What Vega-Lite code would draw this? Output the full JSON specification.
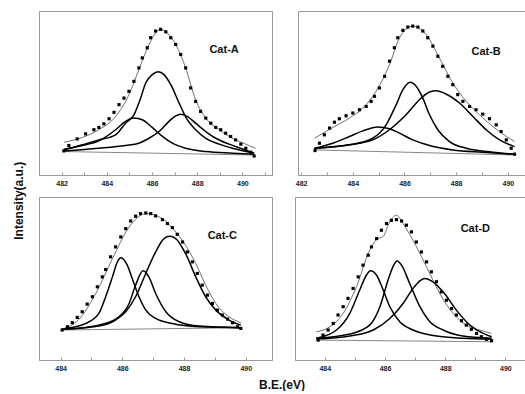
{
"$schema": "https://vega.github.io/schema/vega-lite/v6.json",
"padding": {"left": 12, "top": 10, "right": 0, "bottom": 0},
"background": "white",
"title": {"text": "Intensity(a.u.)", "orient": "left", "anchor": "middle", "fontSize": 12, "fontWeight": "bold", "font": "Liberation Sans", "color": "#111", "offset": 12},
"datasets": {
"Ad": [{"x":482.10,"y":14.7},{"x":482.32,"y":18.0},{"x":482.69,"y":22.0},{"x":483.06,"y":25.1},{"x":483.43,"y":27.6},{"x":483.65,"y":29.0},{"x":483.87,"y":31.2},{"x":484.10,"y":34.3},{"x":484.32,"y":38.2},{"x":484.54,"y":42.9},{"x":484.76,"y":46.9},{"x":484.98,"y":51.0},{"x":485.20,"y":57.1},{"x":485.42,"y":65.3},{"x":485.57,"y":71.4},{"x":485.79,"y":77.6},{"x":485.94,"y":83.7},{"x":486.16,"y":87.8},{"x":486.38,"y":88.8},{"x":486.61,"y":87.3},{"x":486.83,"y":83.7},{"x":487.05,"y":79.6},{"x":487.27,"y":73.5},{"x":487.49,"y":65.3},{"x":487.71,"y":53.1},{"x":487.93,"y":44.9},{"x":488.15,"y":38.8},{"x":488.38,"y":34.7},{"x":488.60,"y":31.6},{"x":488.82,"y":29.0},{"x":489.04,"y":27.6},{"x":489.26,"y":25.5},{"x":489.48,"y":23.5},{"x":489.70,"y":21.4},{"x":489.93,"y":18.8},{"x":490.15,"y":16.3},{"x":490.37,"y":13.9},{"x":490.52,"y":11.6}],
"Af": [{"x":482.10,"y":20.0},{"x":482.92,"y":22.9},{"x":483.65,"y":27.6},{"x":484.39,"y":35.7},{"x":484.98,"y":49.0},{"x":485.42,"y":64.3},{"x":485.87,"y":79.6},{"x":486.16,"y":86.7},{"x":486.38,"y":88.8},{"x":486.61,"y":87.3},{"x":487.05,"y":79.6},{"x":487.49,"y":65.3},{"x":487.93,"y":45.9},{"x":488.38,"y":34.7},{"x":488.97,"y":27.6},{"x":489.56,"y":22.4},{"x":490.15,"y":18.8},{"x":490.59,"y":16.3}],
"Ab": [{"x":482.10,"y":14.3},{"x":490.52,"y":12.2}],
"Ac": [{"s":1,"x":482.10,"y":15.7},{"s":1,"x":482.92,"y":18.0},{"s":1,"x":483.65,"y":20.8},{"s":1,"x":484.39,"y":27.6},{"s":1,"x":484.83,"y":32.7},{"s":1,"x":485.20,"y":34.7},{"s":1,"x":485.57,"y":33.7},{"s":1,"x":486.01,"y":29.0},{"s":1,"x":486.46,"y":23.5},{"s":1,"x":486.90,"y":19.4},{"s":1,"x":487.49,"y":16.3},{"s":1,"x":488.38,"y":14.3},{"s":1,"x":489.56,"y":13.3},{"s":1,"x":490.52,"y":12.7},
{"s":2,"x":482.10,"y":15.3},{"s":2,"x":482.92,"y":18.4},{"s":2,"x":483.65,"y":21.4},{"s":2,"x":484.39,"y":24.5},{"s":2,"x":484.83,"y":31.6},{"s":2,"x":485.20,"y":36.7},{"s":2,"x":485.50,"y":47.0},{"s":2,"x":485.72,"y":56.1},{"s":2,"x":486.01,"y":61.2},{"s":2,"x":486.28,"y":62.9},{"s":2,"x":486.53,"y":61.2},{"s":2,"x":486.83,"y":55.1},{"s":2,"x":487.20,"y":43.9},{"s":2,"x":487.56,"y":33.7},{"s":2,"x":487.93,"y":27.6},{"s":2,"x":488.38,"y":22.4},{"s":2,"x":488.97,"y":18.8},{"s":2,"x":489.56,"y":16.3},{"s":2,"x":490.52,"y":13.3},
{"s":3,"x":482.10,"y":14.7},{"s":3,"x":483.65,"y":16.3},{"s":3,"x":484.83,"y":18.0},{"s":3,"x":485.42,"y":19.4},{"s":3,"x":485.87,"y":22.4},{"s":3,"x":486.31,"y":26.5},{"s":3,"x":486.75,"y":32.7},{"s":3,"x":487.05,"y":36.1},{"s":3,"x":487.27,"y":37.1},{"s":3,"x":487.56,"y":35.7},{"s":3,"x":487.93,"y":31.6},{"s":3,"x":488.38,"y":26.5},{"s":3,"x":488.82,"y":22.4},{"s":3,"x":489.41,"y":18.8},{"s":3,"x":490.00,"y":15.9},{"s":3,"x":490.52,"y":13.3}],
"Al": [{"x":489.19,"y":76.5,"t":"Cat-A"}],
"Bd": [{"x":482.54,"y":14.9},{"x":482.71,"y":19.4},{"x":482.90,"y":24.5},{"x":483.10,"y":28.6},{"x":483.29,"y":32.2},{"x":483.48,"y":34.3},{"x":483.74,"y":36.1},{"x":484.00,"y":37.8},{"x":484.26,"y":39.8},{"x":484.52,"y":41.8},{"x":484.71,"y":44.9},{"x":484.84,"y":48.0},{"x":485.03,"y":53.1},{"x":485.23,"y":60.2},{"x":485.42,"y":69.4},{"x":485.61,"y":77.6},{"x":485.74,"y":83.7},{"x":485.94,"y":88.2},{"x":486.13,"y":90.2},{"x":486.32,"y":90.8},{"x":486.52,"y":90.2},{"x":486.71,"y":87.8},{"x":486.90,"y":83.7},{"x":487.10,"y":78.6},{"x":487.29,"y":72.4},{"x":487.48,"y":66.3},{"x":487.68,"y":60.2},{"x":487.87,"y":55.1},{"x":488.06,"y":49.0},{"x":488.26,"y":44.9},{"x":488.52,"y":41.8},{"x":488.77,"y":39.8},{"x":489.03,"y":37.1},{"x":489.29,"y":34.3},{"x":489.55,"y":30.6},{"x":489.74,"y":26.5},{"x":489.94,"y":21.4},{"x":490.13,"y":16.3},{"x":490.26,"y":12.7}],
"Bf": [{"x":482.52,"y":22.4},{"x":483.23,"y":29.0},{"x":483.87,"y":34.7},{"x":484.39,"y":40.8},{"x":484.90,"y":51.0},{"x":485.42,"y":67.3},{"x":485.81,"y":83.7},{"x":486.32,"y":90.8},{"x":486.84,"y":85.7},{"x":487.35,"y":71.4},{"x":487.87,"y":56.1},{"x":488.39,"y":44.9},{"x":488.90,"y":36.7},{"x":489.42,"y":29.6},{"x":489.94,"y":23.5},{"x":490.26,"y":20.4}],
"Bb": [{"x":482.52,"y":15.3},{"x":490.30,"y":12.2}],
"Bc": [{"s":1,"x":482.52,"y":16.3},{"s":1,"x":483.23,"y":19.4},{"s":1,"x":483.87,"y":23.5},{"s":1,"x":484.39,"y":26.9},{"s":1,"x":484.97,"y":29.2},{"s":1,"x":485.42,"y":28.2},{"s":1,"x":485.81,"y":25.5},{"s":1,"x":486.32,"y":21.4},{"s":1,"x":486.97,"y":18.0},{"s":1,"x":487.87,"y":15.3},{"s":1,"x":489.03,"y":13.9},{"s":1,"x":490.26,"y":12.7},
{"s":2,"x":482.52,"y":16.3},{"s":2,"x":483.87,"y":18.4},{"s":2,"x":484.77,"y":22.4},{"s":2,"x":485.29,"y":30.6},{"s":2,"x":485.68,"y":42.9},{"s":2,"x":485.94,"y":52.0},{"s":2,"x":486.22,"y":56.5},{"s":2,"x":486.45,"y":54.1},{"s":2,"x":486.71,"y":46.9},{"s":2,"x":486.97,"y":36.7},{"s":2,"x":487.29,"y":27.6},{"s":2,"x":487.74,"y":20.4},{"s":2,"x":488.39,"y":16.3},{"s":2,"x":489.42,"y":13.9},{"s":2,"x":490.26,"y":12.7},
{"s":3,"x":482.52,"y":16.3},{"s":3,"x":483.87,"y":18.4},{"s":3,"x":484.77,"y":21.4},{"s":3,"x":485.42,"y":27.6},{"s":3,"x":486.06,"y":36.7},{"s":3,"x":486.58,"y":45.9},{"s":3,"x":486.97,"y":50.6},{"s":3,"x":487.23,"y":51.4},{"s":3,"x":487.61,"y":49.4},{"s":3,"x":488.13,"y":43.9},{"s":3,"x":488.65,"y":35.7},{"s":3,"x":489.16,"y":27.6},{"s":3,"x":489.68,"y":21.4},{"s":3,"x":490.26,"y":17.3}],
"Bl": [{"x":489.16,"y":75.1,"t":"Cat-B"}],
"Cd": [{"x":484.05,"y":18.4},{"x":484.22,"y":20.4},{"x":484.38,"y":22.9},{"x":484.54,"y":26.1},{"x":484.70,"y":29.6},{"x":484.86,"y":34.3},{"x":485.03,"y":38.8},{"x":485.19,"y":44.9},{"x":485.35,"y":51.0},{"x":485.46,"y":55.5},{"x":485.62,"y":63.3},{"x":485.78,"y":69.4},{"x":485.95,"y":75.5},{"x":486.11,"y":80.6},{"x":486.27,"y":85.3},{"x":486.43,"y":88.2},{"x":486.59,"y":89.8},{"x":486.76,"y":90.2},{"x":486.92,"y":89.8},{"x":487.08,"y":88.4},{"x":487.30,"y":86.1},{"x":487.46,"y":83.7},{"x":487.62,"y":81.2},{"x":487.78,"y":77.1},{"x":487.95,"y":72.4},{"x":488.11,"y":66.3},{"x":488.27,"y":60.2},{"x":488.43,"y":53.1},{"x":488.59,"y":45.9},{"x":488.76,"y":39.8},{"x":488.92,"y":34.7},{"x":489.08,"y":30.6},{"x":489.24,"y":27.6},{"x":489.41,"y":25.1},{"x":489.57,"y":22.9},{"x":489.73,"y":20.4},{"x":489.84,"y":19.4}],
"Cf": [{"x":484.05,"y":18.8},{"x":484.59,"y":24.9},{"x":485.14,"y":40.8},{"x":485.68,"y":62.2},{"x":486.22,"y":81.6},{"x":486.76,"y":89.8},{"x":487.30,"y":86.7},{"x":487.73,"y":78.6},{"x":488.05,"y":70.4},{"x":488.38,"y":59.2},{"x":488.70,"y":45.9},{"x":489.03,"y":34.7},{"x":489.46,"y":26.5},{"x":489.84,"y":22.9}],
"Cb": [{"x":484.05,"y":18.4},{"x":489.84,"y":19.8}],
"Cc": [{"s":1,"x":484.05,"y":19.0},{"s":1,"x":484.81,"y":22.4},{"s":1,"x":485.24,"y":28.6},{"s":1,"x":485.46,"y":38.8},{"s":1,"x":485.68,"y":51.0},{"s":1,"x":485.84,"y":60.2},{"s":1,"x":485.95,"y":62.7},{"s":1,"x":486.16,"y":58.2},{"s":1,"x":486.32,"y":50.0},{"s":1,"x":486.54,"y":38.8},{"s":1,"x":486.76,"y":30.6},{"s":1,"x":487.08,"y":25.5},{"s":1,"x":487.62,"y":22.4},{"s":1,"x":488.49,"y":20.4},{"s":1,"x":489.84,"y":19.8},
{"s":2,"x":484.05,"y":18.8},{"s":2,"x":485.24,"y":21.4},{"s":2,"x":485.89,"y":26.5},{"s":2,"x":486.22,"y":34.7},{"s":2,"x":486.43,"y":45.9},{"s":2,"x":486.67,"y":54.7},{"s":2,"x":486.86,"y":51.0},{"s":2,"x":487.08,"y":40.8},{"s":2,"x":487.41,"y":29.6},{"s":2,"x":487.84,"y":23.5},{"s":2,"x":488.49,"y":20.8},{"s":2,"x":489.84,"y":19.8},
{"s":3,"x":484.05,"y":18.8},{"s":3,"x":485.24,"y":20.8},{"s":3,"x":485.78,"y":24.5},{"s":3,"x":486.11,"y":29.6},{"s":3,"x":486.43,"y":38.8},{"s":3,"x":486.76,"y":53.1},{"s":3,"x":487.08,"y":66.3},{"s":3,"x":487.35,"y":74.5},{"s":3,"x":487.54,"y":75.9},{"s":3,"x":487.73,"y":74.5},{"s":3,"x":488.05,"y":65.3},{"s":3,"x":488.38,"y":51.0},{"s":3,"x":488.70,"y":38.8},{"s":3,"x":489.03,"y":30.6},{"s":3,"x":489.46,"y":24.5},{"s":3,"x":489.84,"y":21.4}],
"Cl": [{"x":489.24,"y":75.9,"t":"Cat-C"}],
"Dd": [{"x":483.78,"y":12.2},{"x":483.94,"y":15.3},{"x":484.11,"y":18.4},{"x":484.28,"y":22.4},{"x":484.44,"y":27.6},{"x":484.61,"y":32.7},{"x":484.77,"y":37.8},{"x":484.94,"y":43.9},{"x":485.11,"y":51.0},{"x":485.27,"y":58.2},{"x":485.44,"y":64.3},{"x":485.55,"y":69.4},{"x":485.72,"y":74.5},{"x":485.88,"y":79.6},{"x":486.05,"y":83.7},{"x":486.21,"y":85.7},{"x":486.38,"y":86.1},{"x":486.55,"y":85.3},{"x":486.71,"y":82.7},{"x":486.88,"y":78.6},{"x":487.04,"y":72.4},{"x":487.21,"y":66.3},{"x":487.38,"y":60.2},{"x":487.54,"y":54.1},{"x":487.71,"y":48.0},{"x":487.87,"y":41.8},{"x":488.04,"y":36.7},{"x":488.21,"y":31.6},{"x":488.37,"y":27.6},{"x":488.54,"y":24.1},{"x":488.70,"y":21.4},{"x":488.87,"y":18.8},{"x":489.04,"y":16.3},{"x":489.20,"y":14.3},{"x":489.37,"y":12.7},{"x":489.54,"y":11.8}],
"Df": [{"x":483.72,"y":17.3},{"x":484.17,"y":20.4},{"x":484.61,"y":28.6},{"x":485.05,"y":44.9},{"x":485.49,"y":67.3},{"x":485.72,"y":73.9},{"x":485.94,"y":75.9},{"x":486.16,"y":84.7},{"x":486.38,"y":88.8},{"x":486.60,"y":83.7},{"x":486.93,"y":73.5},{"x":487.38,"y":57.1},{"x":487.82,"y":40.8},{"x":488.26,"y":28.6},{"x":488.70,"y":21.4},{"x":489.15,"y":18.4},{"x":489.54,"y":16.3}],
"Db": [{"x":483.72,"y":12.2},{"x":489.54,"y":11.2}],
"Dc": [{"s":1,"x":483.72,"y":13.3},{"s":1,"x":484.39,"y":18.4},{"s":1,"x":484.83,"y":28.6},{"s":1,"x":485.16,"y":42.9},{"s":1,"x":485.38,"y":52.0},{"s":1,"x":485.52,"y":54.7},{"s":1,"x":485.72,"y":52.0},{"s":1,"x":485.94,"y":42.9},{"s":1,"x":486.16,"y":32.7},{"s":1,"x":486.49,"y":23.5},{"s":1,"x":486.93,"y":18.4},{"s":1,"x":487.71,"y":14.7},{"s":1,"x":488.59,"y":13.3},{"s":1,"x":489.54,"y":12.7},
{"s":2,"x":483.72,"y":13.3},{"s":2,"x":484.83,"y":15.9},{"s":2,"x":485.49,"y":21.4},{"s":2,"x":485.83,"y":32.7},{"s":2,"x":486.10,"y":49.0},{"s":2,"x":486.29,"y":58.2},{"s":2,"x":486.40,"y":60.8},{"s":2,"x":486.55,"y":58.2},{"s":2,"x":486.82,"y":46.9},{"s":2,"x":487.16,"y":32.7},{"s":2,"x":487.49,"y":23.5},{"s":2,"x":487.93,"y":18.4},{"s":2,"x":488.59,"y":14.7},{"s":2,"x":489.54,"y":13.3},
{"s":3,"x":483.72,"y":12.9},{"s":3,"x":484.83,"y":14.7},{"s":3,"x":485.61,"y":18.4},{"s":3,"x":486.16,"y":25.5},{"s":3,"x":486.60,"y":34.7},{"s":3,"x":486.93,"y":43.9},{"s":3,"x":487.16,"y":48.6},{"s":3,"x":487.32,"y":50.0},{"s":3,"x":487.54,"y":48.6},{"s":3,"x":487.93,"y":41.8},{"s":3,"x":488.37,"y":30.6},{"s":3,"x":488.82,"y":21.4},{"s":3,"x":489.26,"y":16.3},{"s":3,"x":489.54,"y":14.3}],
"Dl": [{"x":489.00,"y":80.2,"t":"Cat-D"}]
},
"vconcat": [
{"hconcat": [
{"width": 233, "height": 164,
 "encoding": {"x": {"field": "x", "type": "quantitative", "scale": {"domain": [481, 491.31], "nice": false, "zero": false}, "axis": {"title": null, "values": [481,482,483,484,485,486,487,488,489,490,491]}},
              "y": {"field": "y", "type": "quantitative", "scale": {"domain": [0, 100], "nice": false}, "axis": null}},
 "layer": [
  {"data": {"name": "Ab"}, "mark": {"type": "line", "color": "#666", "strokeWidth": 0.8}},
  {"data": {"name": "Ac"}, "mark": {"type": "line", "color": "#000", "strokeWidth": 1.5, "interpolate": "monotone"}, "encoding": {"detail": {"field": "s"}}},
  {"data": {"name": "Af"}, "mark": {"type": "line", "color": "#333", "strokeWidth": 0.7, "interpolate": "monotone"}},
  {"data": {"name": "Ad"}, "mark": {"type": "point", "shape": "square", "filled": true, "size": 10, "color": "#000", "opacity": 1}},
  {"data": {"name": "Al"}, "mark": {"type": "text", "font": "Liberation Sans", "fontWeight": "bold", "fontSize": 11, "color": "#111"}, "encoding": {"text": {"field": "t"}}}
 ]},
{"width": 230, "height": 164,
 "encoding": {"x": {"field": "x", "type": "quantitative", "scale": {"domain": [481.88, 490.78], "nice": false, "zero": false}, "axis": {"title": null, "values": [482,483,484,485,486,487,488,489,490]}},
              "y": {"field": "y", "type": "quantitative", "scale": {"domain": [0, 100], "nice": false}, "axis": null}},
 "layer": [
  {"data": {"name": "Bb"}, "mark": {"type": "line", "color": "#666", "strokeWidth": 0.8}},
  {"data": {"name": "Bc"}, "mark": {"type": "line", "color": "#000", "strokeWidth": 1.5, "interpolate": "monotone"}, "encoding": {"detail": {"field": "s"}}},
  {"data": {"name": "Bf"}, "mark": {"type": "line", "color": "#333", "strokeWidth": 0.7, "interpolate": "monotone"}},
  {"data": {"name": "Bd"}, "mark": {"type": "point", "shape": "square", "filled": true, "size": 10, "color": "#000", "opacity": 1}},
  {"data": {"name": "Bl"}, "mark": {"type": "text", "font": "Liberation Sans", "fontWeight": "bold", "fontSize": 11, "color": "#111"}, "encoding": {"text": {"field": "t"}}}
 ]}
]},
{"title": {"text": "B.E.(eV)", "orient": "bottom", "anchor": "middle", "fontSize": 12, "fontWeight": "bold", "font": "Liberation Sans", "color": "#111", "offset": 8},
 "hconcat": [
{"width": 233, "height": 163,
 "encoding": {"x": {"field": "x", "type": "quantitative", "scale": {"domain": [483.3, 490.85], "nice": false, "zero": false}, "axis": {"title": null, "values": [484,485,486,487,488,489,490]}},
              "y": {"field": "y", "type": "quantitative", "scale": {"domain": [0, 100], "nice": false}, "axis": null}},
 "layer": [
  {"data": {"name": "Cb"}, "mark": {"type": "line", "color": "#666", "strokeWidth": 0.8}},
  {"data": {"name": "Cc"}, "mark": {"type": "line", "color": "#000", "strokeWidth": 1.5, "interpolate": "monotone"}, "encoding": {"detail": {"field": "s"}}},
  {"data": {"name": "Cf"}, "mark": {"type": "line", "color": "#333", "strokeWidth": 0.7, "interpolate": "monotone"}},
  {"data": {"name": "Cd"}, "mark": {"type": "point", "shape": "square", "filled": true, "size": 10, "color": "#000", "opacity": 1}},
  {"data": {"name": "Cl"}, "mark": {"type": "text", "font": "Liberation Sans", "fontWeight": "bold", "fontSize": 11, "color": "#111"}, "encoding": {"text": {"field": "t"}}}
 ]},
{"width": 230, "height": 163,
 "encoding": {"x": {"field": "x", "type": "quantitative", "scale": {"domain": [483.01, 490.65], "nice": false, "zero": false}, "axis": {"title": null, "values": [484,485,486,487,488,489,490]}},
              "y": {"field": "y", "type": "quantitative", "scale": {"domain": [0, 100], "nice": false}, "axis": null}},
 "layer": [
  {"data": {"name": "Db"}, "mark": {"type": "line", "color": "#666", "strokeWidth": 0.8}},
  {"data": {"name": "Dc"}, "mark": {"type": "line", "color": "#000", "strokeWidth": 1.5, "interpolate": "monotone"}, "encoding": {"detail": {"field": "s"}}},
  {"data": {"name": "Df"}, "mark": {"type": "line", "color": "#333", "strokeWidth": 0.7, "interpolate": "monotone"}},
  {"data": {"name": "Dd"}, "mark": {"type": "point", "shape": "square", "filled": true, "size": 10, "color": "#000", "opacity": 1}},
  {"data": {"name": "Dl"}, "mark": {"type": "text", "font": "Liberation Sans", "fontWeight": "bold", "fontSize": 11, "color": "#111"}, "encoding": {"text": {"field": "t"}}}
 ]}
]}
],
"spacing": 9,
"config": {
 "concat": {"spacing": 21},
 "view": {"stroke": "#999", "strokeWidth": 1},
 "axisX": {"grid": false, "domainColor": "#999", "tickColor": "#999", "tickSize": -3, "labelPadding": 7.5, "labelFont": "Liberation Sans", "labelFontWeight": "bold", "labelFontSize": 7, "labelColor": "#222", "labelExpr": "datum.value % 2 == 0 ? datum.label : ''", "labelFlush": false}
}
}
